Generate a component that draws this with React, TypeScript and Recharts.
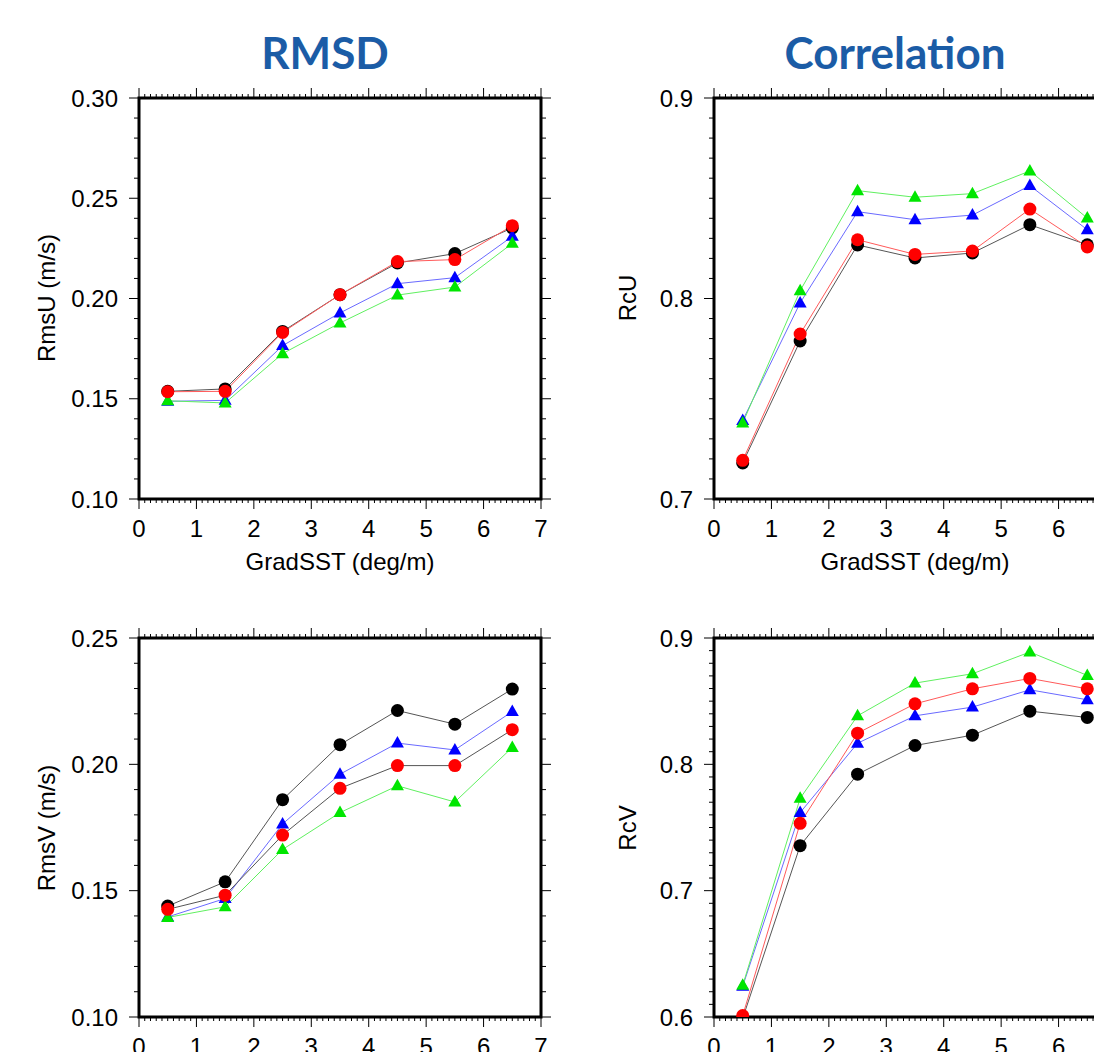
import React from 'react';
import {LineChart, Line, XAxis, YAxis, ReferenceArea} from 'recharts';

const gradSST = [0.5, 1.5, 2.5, 3.5, 4.5, 5.5, 6.5];
const xMajorTicks = [0, 1, 2, 3, 4, 5, 6, 7];

// RMSD of U
const rmsUBlack = [0.1537, 0.1549, 0.1836, 0.2019, 0.2177, 0.2224, 0.2352];
const rmsURed = [0.1535, 0.1537, 0.1831, 0.2019, 0.2184, 0.2194, 0.2363];
const rmsUBlue = [0.1487, 0.1492, 0.1765, 0.1928, 0.2074, 0.2104, 0.2310];
const rmsUGreen = [0.1490, 0.1479, 0.1725, 0.1878, 0.2017, 0.2057, 0.2275];

// RMSD of V
const rmsVBlack = [0.1439, 0.1535, 0.1860, 0.2078, 0.2213, 0.2159, 0.2298];
const rmsVRed = [0.1426, 0.1482, 0.1720, 0.1905, 0.1995, 0.1995, 0.2137];
const rmsVBlue = [0.1396, 0.1469, 0.1764, 0.1961, 0.2084, 0.2057, 0.2209];
const rmsVGreen = [0.1394, 0.1436, 0.1663, 0.1809, 0.1915, 0.1851, 0.2067];

// correlation of U
const rcUBlack = [0.7180, 0.7788, 0.8267, 0.8202, 0.8227, 0.8368, 0.8268];
const rcURed = [0.7193, 0.7823, 0.8293, 0.8220, 0.8237, 0.8446, 0.8257];
const rcUBlue = [0.7392, 0.7978, 0.8433, 0.8393, 0.8416, 0.8563, 0.8343];
const rcUGreen = [0.7379, 0.8039, 0.8538, 0.8505, 0.8523, 0.8636, 0.8401];

// correlation of V
const rcVBlack = [0.5990, 0.7356, 0.7922, 0.8149, 0.8231, 0.8421, 0.8371];
const rcVRed = [0.6011, 0.7533, 0.8247, 0.8479, 0.8598, 0.8680, 0.8598];
const rcVBlue = [0.6243, 0.7618, 0.8167, 0.8384, 0.8453, 0.8590, 0.8511];
const rcVGreen = [0.6251, 0.7731, 0.8384, 0.8643, 0.8717, 0.8889, 0.8704];

const rmsUTicks = [0.10, 0.15, 0.20, 0.25, 0.30];
const rmsVTicks = [0.10, 0.15, 0.20, 0.25];
const rcUTicks = [0.7, 0.8, 0.9];
const rcVTicks = [0.6, 0.7, 0.8, 0.9];

const FONT = '"Liberation Sans", Arial, Helvetica, sans-serif';
const TITLE_FONT = 'Lato, "Open Sans", sans-serif';
const TITLE_COLOR = '#1b5ca6';

const buildData = (black: number[], red: number[], blue: number[], green: number[]) =>
    gradSST.map((x, i) => ({x, black: black[i], red: red[i], blue: blue[i], green: green[i]}));

const stepTicks = (lo: number, hi: number, step: number) => {
    const n = Math.round((hi - lo) / step);
    return Array.from({length: n + 1}, (_, i) => Math.round((lo + i * step) * 1000) / 1000);
};

const isMajor = (v: number, majors: number[]) => majors.some(m => Math.abs(m - v) < 1e-6);

const makeTick = (side: 'left' | 'right' | 'top' | 'bottom', majors: number[], fmt: (v: number) => string) =>
    (props: any) => {
        const {x, y, payload} = props;
        const v = payload.value;
        const major = isMajor(v, majors);
        const len = side === 'left' || side === 'right' ? (major ? 10 : 5) : (major ? 10 : 4);
        let line;
        let label = null;
        if (side === 'left') {
            line = <line x1={x - len} x2={x} y1={y} y2={y}/>;
            if (major) label = <text x={x - 21} y={y} textAnchor="end" dominantBaseline="central">{fmt(v)}</text>;
        } else if (side === 'right') {
            line = <line x1={x} x2={x + len} y1={y} y2={y}/>;
        } else if (side === 'top') {
            line = <line x1={x} x2={x} y1={y - len} y2={y}/>;
        } else {
            line = <line x1={x} x2={x} y1={y} y2={y + len}/>;
            if (major) label = <text x={x} y={y + 29} textAnchor="middle" dominantBaseline="central">{fmt(v)}</text>;
        }
        return (
            <g stroke="#000" strokeWidth={1} fill="#000" fontSize={24} fontFamily={FONT}>
                {line}
                {label && <g stroke="none">{label}</g>}
            </g>
        );
    };

const circleDot = (color: string) => (props: any) => {
    const {cx, cy, index} = props;
    return <circle key={index} cx={cx} cy={cy} r={6.5} fill={color} stroke="none"/>;
};

const triangleDot = (color: string) => (props: any) => {
    const {cx, cy, index} = props;
    const pts = `${cx},${cy - 7} ${cx - 6.5},${cy + 4.5} ${cx + 6.5},${cy + 4.5}`;
    return <polygon key={index} points={pts} fill={color} stroke="none"/>;
};

interface PanelProps {
    left: number;
    top: number;
    plotH: number;
    data: any[];
    domain: [number, number];
    majors: number[];
    digits: number;
    redLine: string;
}

const xTicks = stepTicks(0, 7, 0.1);

const Panel: React.FC<PanelProps> = ({left, top, plotH, data, domain, majors, digits, redLine}) => {
    const yTicks = stepTicks(domain[0], domain[1], 0.01);
    const fmt = (v: number) => v.toFixed(digits);
    const xFmt = (v: number) => String(v);
    return (
        <div style={{position: 'absolute', left, top}}>
            <LineChart width={560} height={plotH + 199} data={data}
                       margin={{top: 83, right: 4, bottom: 11, left: 39}}>
                <XAxis dataKey="x" type="number" domain={[0, 7]} ticks={xTicks} interval={0}
                       tickSize={0} tickMargin={0} axisLine={false} tickLine={false} height={90}
                       tick={makeTick('bottom', xMajorTicks, xFmt)} allowDataOverflow/>
                <XAxis xAxisId="top" orientation="top" dataKey="x" type="number" domain={[0, 7]}
                       ticks={xTicks} interval={0} tickSize={0} tickMargin={0} axisLine={false}
                       tickLine={false} height={15} tick={makeTick('top', xMajorTicks, xFmt)}
                       allowDataOverflow/>
                <YAxis type="number" domain={domain} ticks={yTicks} interval={0} tickSize={0}
                       tickMargin={0} axisLine={false} tickLine={false} width={100}
                       tick={makeTick('left', majors, fmt)} allowDataOverflow/>
                <YAxis yAxisId="right" orientation="right" type="number" domain={domain} ticks={yTicks}
                       interval={0} tickSize={0} tickMargin={0} axisLine={false} tickLine={false}
                       width={15} tick={makeTick('right', majors, fmt)} allowDataOverflow/>
                <ReferenceArea x1={0} x2={7} y1={domain[0]} y2={domain[1]} fill="none" fillOpacity={0}
                               stroke="#000" strokeWidth={3} ifOverflow="visible"/>
                <Line type="linear" dataKey="black" stroke="#555" strokeWidth={1}
                      dot={circleDot('#000')} activeDot={false} isAnimationActive={false}/>
                <Line type="linear" dataKey="blue" stroke="#6a6aff" strokeWidth={1}
                      dot={triangleDot('#0000ff')} activeDot={false} isAnimationActive={false}/>
                <Line type="linear" dataKey="green" stroke="#60f060" strokeWidth={1}
                      dot={triangleDot('#00e600')} activeDot={false} isAnimationActive={false}/>
                <Line type="linear" dataKey="red" stroke={redLine} strokeWidth={1}
                      dot={circleDot('#ff0000')} activeDot={false} isAnimationActive={false}/>
            </LineChart>
        </div>
    );
};

const Txt: React.FC<{x: number; y: number; size: number; rotate?: boolean; bold?: boolean; color?: string; font?: string; children: React.ReactNode}> =
    ({x, y, size, rotate, bold, color, font, children}) => (
        <div style={{
            position: 'absolute', left: x, top: y, whiteSpace: 'nowrap', lineHeight: 1,
            fontSize: size, fontFamily: font || FONT, fontWeight: bold ? 700 : 400, color: color || '#000',
            transform: `translate(-50%, -50%)${rotate ? ' rotate(-90deg)' : ''}`,
        }}>{children}</div>
    );

export default function App() {
    return (
        <div style={{position: 'absolute', left: 0, top: 0, width: 1094, height: 1052, overflow: 'hidden', background: '#fff'}}>
            <Panel left={0} top={0} plotH={401} data={buildData(rmsUBlack, rmsURed, rmsUBlue, rmsUGreen)}
                   domain={[0.1, 0.3]} majors={rmsUTicks} digits={2} redLine="#ff5a5a"/>
            <Panel left={575} top={0} plotH={401} data={buildData(rcUBlack, rcURed, rcUBlue, rcUGreen)}
                   domain={[0.7, 0.9]} majors={rcUTicks} digits={1} redLine="#ff5a5a"/>
            <Panel left={0} top={540} plotH={379} data={buildData(rmsVBlack, rmsVRed, rmsVBlue, rmsVGreen)}
                   domain={[0.1, 0.25]} majors={rmsVTicks} digits={2} redLine="#555"/>
            <Panel left={575} top={540} plotH={379} data={buildData(rcVBlack, rcVRed, rcVBlue, rcVGreen)}
                   domain={[0.6, 0.9]} majors={rcVTicks} digits={1} redLine="#ff5a5a"/>

            <Txt x={325} y={52} size={44} bold color={TITLE_COLOR} font={TITLE_FONT}>RMSD</Txt>
            <Txt x={895} y={52} size={44} bold color={TITLE_COLOR} font={TITLE_FONT}>Correlation</Txt>

            <Txt x={47} y={298} size={24} rotate>RmsU (m/s)</Txt>
            <Txt x={628} y={298} size={24} rotate>RcU</Txt>
            <Txt x={47} y={828} size={24} rotate>RmsV (m/s)</Txt>
            <Txt x={628} y={828} size={24} rotate>RcV</Txt>

            <Txt x={340} y={562} size={24}>GradSST (deg/m)</Txt>
            <Txt x={915} y={562} size={24}>GradSST (deg/m)</Txt>
        </div>
    );
}
